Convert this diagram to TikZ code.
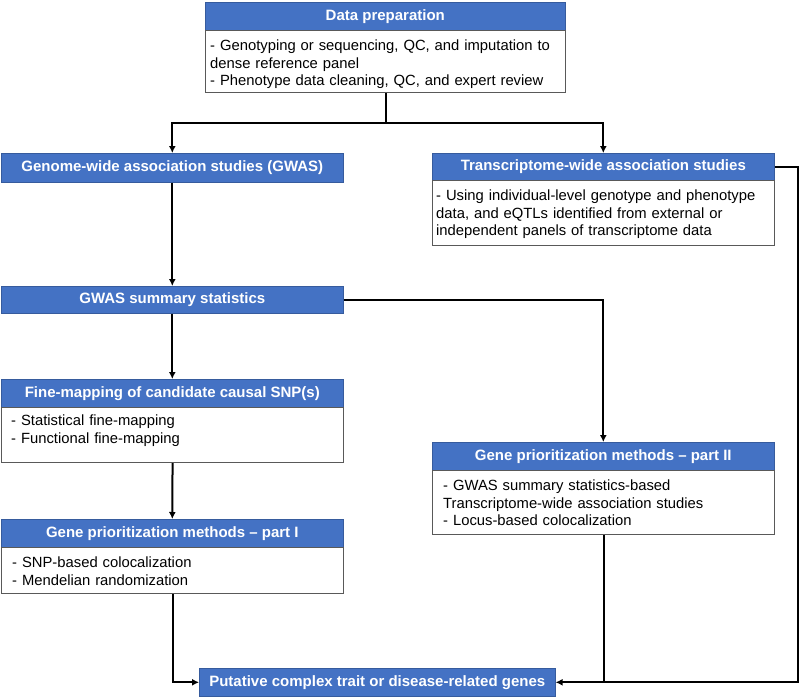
\documentclass[tikz,border=0pt]{standalone}
\usepackage{fontspec}
\setmainfont{Liberation Sans}
\usetikzlibrary{arrows.meta}
\definecolor{hblue}{HTML}{4472C4}
\definecolor{bordergray}{HTML}{595959}
\tikzset{
  head/.style={rectangle, fill=hblue, draw=hblue!80!black, line width=0.6pt, anchor=north west, inner sep=0pt,
    text=white, font=\fontsize{15}{17.5}\selectfont\bfseries},
  bodybox/.style={rectangle, draw=bordergray, fill=white, line width=1.1pt, anchor=north west, inner sep=0pt},
  bodytext/.style={anchor=base west, inner sep=0pt, text width=352pt, align=left,
    font=\fontsize{14.8}{17.6}\selectfont},
  conn/.style={line width=2pt, draw=black},
  arr/.style={conn, -{Latex[length=7pt,width=7pt]}}
}
\begin{document}
\begin{tikzpicture}[x=1pt,y=-1pt]
\useasboundingbox[fill=white] (0,0) rectangle (800,698);

% Data preparation
\node[head, minimum width=360pt, minimum height=28pt] (dph) at (205,2) {Data preparation};
\node[bodybox, minimum width=360pt, minimum height=62pt] (dpb) at (205,30) {};
\node[bodytext] (dpt) at ([xshift=5pt,yshift=-20.5pt]dpb.north west)
  {- Genotyping or sequencing, QC, and imputation to\\dense reference panel\\- Phenotype data cleaning, QC, and expert review};

% GWAS
\node[head, minimum width=342pt, minimum height=29pt] (gwas) at (1,153) {Genome-wide association studies (GWAS)};

% TWAS
\node[head, minimum width=342pt, minimum height=27pt] (twh) at (432,153) {Transcriptome-wide association studies};
\node[bodybox, minimum width=342pt, minimum height=65pt] (twb) at (432,180) {};
\node[bodytext] (twt) at ([xshift=4pt,yshift=-20.5pt]twb.north west)
  {- Using individual-level genotype and phenotype\\data, and eQTLs identified from external or\\independent panels of transcriptome data};

% GWAS summary statistics
\node[head, minimum width=342pt, minimum height=27pt] (gss) at (1,286) {GWAS summary statistics};

% Fine-mapping
\node[head, minimum width=342pt, minimum height=28pt] (fmh) at (1,379) {Fine-mapping of candidate causal SNP(s)};
\node[bodybox, minimum width=342pt, minimum height=55pt] (fmb) at (1,407) {};
\node[bodytext] (fmt) at ([xshift=10pt,yshift=-18.5pt]fmb.north west)
  {- Statistical fine-mapping\\- Functional fine-mapping};

% Gene prioritization part II
\node[head, minimum width=342pt, minimum height=28pt] (p2h) at (432,442) {Gene prioritization methods -- part II};
\node[bodybox, minimum width=342pt, minimum height=64pt] (p2b) at (432,470) {};
\node[bodytext] (p2t) at ([xshift=11pt,yshift=-20.5pt]p2b.north west)
  {- GWAS summary statistics-based\\Transcriptome-wide association studies\\- Locus-based colocalization};

% Gene prioritization part I
\node[head, minimum width=342pt, minimum height=28pt] (p1h) at (1,519) {Gene prioritization methods -- part I};
\node[bodybox, minimum width=342pt, minimum height=46pt] (p1b) at (1,547) {};
\node[bodytext] (p1t) at ([xshift=11pt,yshift=-20.5pt]p1b.north west)
  {- SNP-based colocalization\\- Mendelian randomization};

% Putative genes
\node[head, minimum width=356pt, minimum height=28pt] (put) at (199,668) {Putative complex trait or disease-related genes};

% Connectors
\draw[conn] (dpb.south) -- ++(0,30) coordinate (split);
\draw[arr] (split) -| (gwas.north);
\draw[arr] (split) -| (twh.north);
\draw[arr] (gwas.south) -- (gss.north);
\draw[arr] (gss.east) -| (p2h.north);
\draw[arr] (gss.south) -- (fmh.north);
\draw[arr] (fmb.south) -- (p1h.north);
\draw[arr] (p1b.south) |- (put.west);
\draw[arr] (twh.east) -- ++(23,0) coordinate (tr) |- (put.east);
\draw[conn] (p2b.south) -- (p2b.south |- put.east);
\end{tikzpicture}
\end{document}
